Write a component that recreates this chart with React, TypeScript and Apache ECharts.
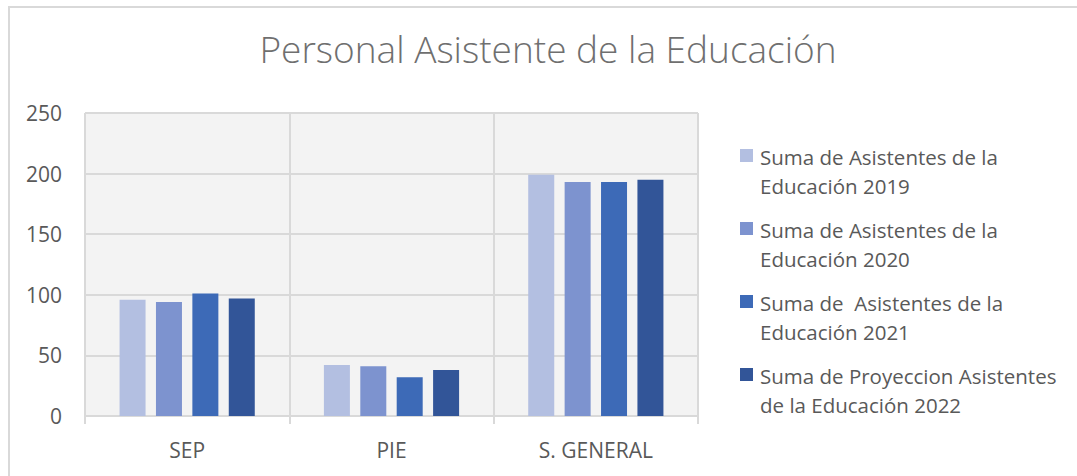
import React, { useEffect, useRef } from "react";
import * as echarts from "echarts";

const categories = ["SEP", "PIE", "S. GENERAL"];
const seriesNames = [
  "Suma de Asistentes de la\nEducación 2019",
  "Suma de Asistentes de la\nEducación 2020",
  "Suma de  Asistentes de la\nEducación 2021",
  "Suma de Proyeccion Asistentes\nde la Educación 2022",
];
const values2019 = [96, 42, 199];
const values2020 = [94, 41, 193];
const values2021 = [101, 32, 193];
const values2022 = [97, 38, 195];
const colors = ["#B3BFE1", "#7D93CF", "#3D6AB7", "#325598"];
const yTicks = [0, 50, 100, 150, 200, 250];

const FONT = "'Open Sans', sans-serif";

export default function App() {
  const ref = useRef<HTMLDivElement>(null);
  useEffect(() => {
    if (!ref.current) return;
    const chart = echarts.init(ref.current, null, { renderer: "svg" });
    const allValues = [values2019, values2020, values2021, values2022];
    chart.setOption({
      animation: false,
      title: {
        text: "Personal Asistente de la Educación",
        left: 548,
        textAlign: "center",
        top: 30,
        padding: 0,
        textStyle: { fontFamily: FONT, fontSize: 37, fontWeight: 300, color: "#6f6f6f" },
      },
      legend: {
        orient: "vertical",
        left: 740,
        top: 143,
        padding: 0,
        itemWidth: 13,
        itemHeight: 57,
        itemGap: 16,
        icon: "path://M0,6H13V19H0Z M0,0H0.01V0.01H0Z M12.99,56.99H13V57H12.99Z",
        textStyle: {
          fontFamily: FONT,
          fontSize: 20.5,
          lineHeight: 28.5,
          color: "#595959",
          padding: [0, 0, 0, 2],
        },
      },
      grid: {
        left: 85,
        top: 113,
        width: 613,
        height: 303,
        show: true,
        backgroundColor: "#f3f3f3",
        borderWidth: 0,
      },
      xAxis: {
        type: "category",
        data: categories,
        axisLine: { show: true, lineStyle: { color: "#d9d9d9", width: 2 } },
        axisTick: { show: true, length: 8, lineStyle: { color: "#d9d9d9", width: 2 } },
        splitLine: { show: true, lineStyle: { color: "#d9d9d9", width: 2 } },
        axisLabel: { fontFamily: FONT, fontSize: 21, color: "#595959", margin: 23 },
      },
      yAxis: {
        type: "value",
        min: yTicks[0],
        max: yTicks[yTicks.length - 1],
        interval: 50,
        axisLine: { show: false },
        axisTick: { show: false },
        splitLine: { show: true, lineStyle: { color: "#d9d9d9", width: 2 } },
        axisLabel: { fontFamily: FONT, fontSize: 21, color: "#595959", margin: 23 },
      },
      series: seriesNames.map((name, i) => ({
        name,
        type: "bar",
        data: allValues[i],
        barWidth: 26,
        barGap: "40%",
        itemStyle: { color: colors[i] },
      })),
    });
    return () => chart.dispose();
  }, []);
  return (
    <div style={{ position: "fixed", left: 0, top: 0, width: 1077, height: 476, overflow: "hidden", background: "#fff" }}>
      <div
        style={{
          position: "absolute",
          left: 8,
          top: 6,
          width: 1200,
          height: 600,
          border: "2px solid #d9d9d9",
          boxSizing: "border-box",
        }}
      />
      <div ref={ref} style={{ position: "absolute", left: 0, top: 0, width: 1077, height: 476 }} />
    </div>
  );
}
